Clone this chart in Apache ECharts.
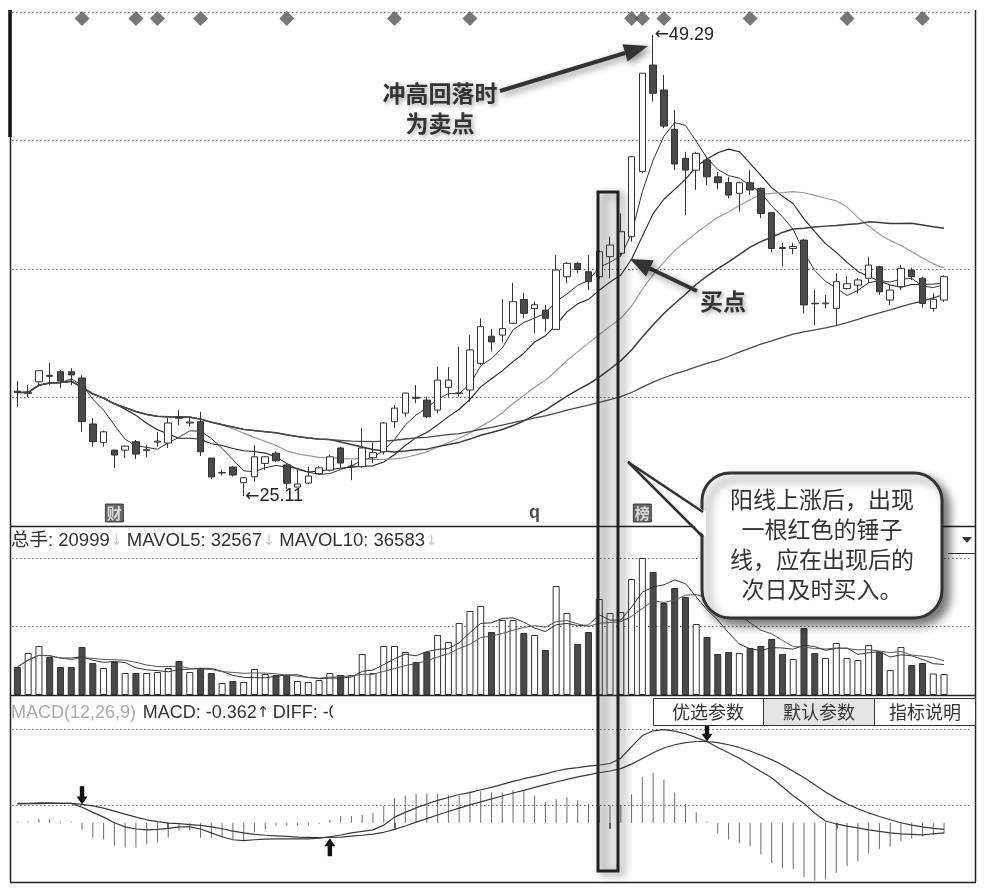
<!DOCTYPE html>
<html><head><meta charset="utf-8">
<script src="https://cdn.jsdelivr.net/npm/echarts@6/dist/echarts.min.js"></script>
<style>html,body{margin:0;padding:0;background:#fff}#c{width:985px;height:893px}</style>
</head><body><div id="c"></div>
<script>
// ---------- data ----------
const opens = [30.62,30.50,31.11,31.45,31.64,31.64,31.31,28.90,27.92,27.53,
 27.53,27.97,27.50,27.95,27.90,29.25,28.95,29.02,27.11,26.33,
 26.64,25.82,26.13,26.83,27.37,26.75,25.59,25.80,26.30,26.48,
 27.64,26.66,26.66,27.13,27.44,29.02,29.47,30.30,30.15,29.63,
 30.82,30.50,30.68,32.08,33.50,33.56,34.18,35.43,34.95,34.87,
 33.86,36.62,37.32,36.88,36.62,37.67,37.85,38.72,42.13,47.72,
 46.41,44.35,42.83,42.21,42.74,41.86,41.55,40.99,41.55,41.25,
 39.98,38.15,38.10,38.54,35.23,35.20,34.96,36.00,36.18,36.54,
 37.14,35.40,36.10,36.97,36.54,34.96,35.40];
const closes = [30.55,30.56,31.69,31.40,31.15,31.47,29.02,27.97,28.49,27.27,
 27.74,27.32,27.55,28.00,28.95,29.20,29.00,27.44,26.12,26.36,
 26.22,26.08,27.18,27.18,26.97,25.79,25.75,26.17,26.60,27.18,
 26.85,26.70,27.64,27.40,28.95,29.73,30.52,30.25,29.28,31.20,
 31.20,30.53,32.78,34.00,33.20,33.90,35.31,34.70,35.15,34.44,
 36.97,37.32,37.00,36.36,37.93,38.28,38.98,42.91,47.29,46.24,
 44.52,42.53,42.21,43.09,41.86,41.55,40.90,41.55,41.17,39.94,
 38.10,38.10,38.20,35.14,35.20,35.24,36.36,36.25,36.45,37.23,
 35.83,35.92,37.06,36.62,35.22,35.44,36.62];
const lows = [29.80,30.30,30.85,30.94,30.78,30.94,28.49,27.71,27.71,26.59,
 27.11,27.06,27.17,27.71,27.64,28.84,28.76,27.22,26.01,26.20,
 26.15,25.11,25.87,26.48,26.90,25.49,25.59,25.75,26.25,26.40,
 26.60,25.95,26.60,26.85,27.30,28.69,29.28,29.99,29.21,29.46,
 30.33,30.33,30.07,31.99,32.70,33.20,34.14,34.44,33.65,33.74,
 33.83,36.27,36.80,35.92,36.50,36.53,37.67,38.46,42.04,45.80,
 44.40,42.21,39.85,41.17,41.43,41.20,40.73,40.03,40.90,39.70,
 37.90,37.15,37.80,34.70,34.09,34.96,34.09,35.95,35.75,36.27,
 35.66,35.13,35.92,36.45,35.00,34.80,35.30];
const highs = [31.15,30.95,31.72,32.11,31.73,31.83,31.46,29.21,28.55,27.53,
 27.76,28.06,27.80,28.49,29.21,29.63,29.21,29.54,27.11,26.50,
 26.70,26.10,27.79,27.20,27.45,26.85,26.48,26.66,26.70,27.30,
 27.70,27.00,28.69,27.92,29.00,29.89,30.55,30.94,30.33,31.90,
 31.88,32.95,33.56,34.44,33.88,35.43,36.30,35.78,35.31,35.13,
 37.76,37.40,37.40,37.76,38.00,38.72,39.94,42.95,47.30,49.29,
 47.20,45.36,43.17,43.17,42.91,42.10,41.86,41.60,42.21,41.30,
 40.00,38.39,38.40,38.60,35.92,35.66,36.80,36.65,36.55,37.67,
 37.20,36.18,37.23,37.10,36.62,35.75,36.70];
const volumes = [28000,42000,49000,38000,28000,28000,48000,32000,27000,33000,
 22000,22000,22000,23000,27000,34000,23000,27000,22000,12000,
 14000,13000,26000,21000,20000,20000,14000,13000,15000,22000,
 20000,20000,41000,22000,49000,49000,43000,33000,43000,60000,
 53000,72000,84000,89000,63000,75000,75000,62000,60000,45000,
 109000,82000,51000,63000,96000,82000,83000,116000,137000,123000,
 92000,107000,98000,71000,58000,41000,43000,42000,47000,49000,
 56000,41000,36000,67000,42000,37000,52000,37000,35000,50000,
 43000,25000,48000,30000,32000,21500,20999];
const diff = [0.65,0.65,0.67,0.67,0.65,0.65,0.52,0.35,0.19,0.00,
 -0.14,-0.21,-0.24,-0.22,-0.19,-0.14,-0.14,-0.21,-0.34,-0.47,
 -0.57,-0.60,-0.57,-0.55,-0.54,-0.54,-0.54,-0.54,-0.52,-0.47,
 -0.41,-0.34,-0.29,-0.24,-0.08,0.19,0.35,0.50,0.63,0.75,
 0.85,0.95,1.01,1.11,1.19,1.29,1.39,1.48,1.56,1.64,
 1.74,1.81,1.85,1.90,1.94,1.99,2.17,2.56,2.93,3.09,
 3.13,3.08,2.99,2.86,2.73,2.53,2.35,2.17,1.94,1.72,
 1.51,1.21,0.91,0.65,0.32,0.06,-0.04,-0.11,-0.17,-0.24,
 -0.29,-0.34,-0.37,-0.39,-0.41,-0.37,-0.34];
const dea = [0.63,0.64,0.64,0.65,0.65,0.65,0.62,0.57,0.49,0.39,
 0.29,0.19,0.10,0.04,-0.01,-0.03,-0.06,-0.09,-0.14,-0.20,
 -0.28,-0.34,-0.39,-0.42,-0.44,-0.46,-0.48,-0.49,-0.50,-0.49,
 -0.48,-0.45,-0.42,-0.38,-0.32,-0.22,-0.11,0.02,0.14,0.26,
 0.38,0.49,0.60,0.70,0.80,0.90,1.00,1.09,1.19,1.28,
 1.37,1.46,1.54,1.61,1.68,1.74,1.82,1.97,2.16,2.35,
 2.51,2.62,2.69,2.73,2.73,2.69,2.62,2.53,2.41,2.27,
 2.12,1.94,1.73,1.52,1.28,1.03,0.82,0.63,0.47,0.33,
 0.21,0.10,0.00,-0.08,-0.14,-0.19,-0.22];
const macdHist = [0.03,0.03,0.13,0.13,0.03,0.03,-0.23,-0.50,-0.56,-0.76,
 -0.83,-0.83,-0.73,-0.66,-0.50,-0.26,-0.26,-0.50,-0.50,-0.50,
 -0.56,-0.59,-0.33,-0.23,-0.10,-0.10,-0.10,-0.10,-0.03,0.10,
 0.23,0.23,0.26,0.33,0.56,0.82,0.91,0.97,0.98,0.98,
 0.94,0.91,1.06,1.06,1.02,1.02,1.09,1.09,0.92,0.69,
 0.79,0.86,0.76,0.63,0.56,0.59,0.59,0.96,1.55,1.68,
 1.45,1.02,0.63,0.36,0.03,-0.36,-0.56,-0.69,-0.79,-1.06,
 -1.35,-1.52,-1.55,-1.82,-1.95,-1.91,-1.68,-1.45,-1.29,-1.02,
 -0.89,-0.79,-0.63,-0.53,-0.46,-0.40,-0.362];
const infoDays = [6,11,13,17,25,35,42,57,58,60,68,77,84];     // diamond markers
const tagDays = [9,48,58];
const tagTexts = ['财','q','榜'];
const monthStarts = [14,35,55,76];
const crossDays = [6,29,64];
const crossDirs = ['down','up','down'];
const maPeriods = [5,10,20,30,60];
const volMaPeriods = [5,10];

// ---------- helpers ----------
const days = opens.map((_, i) => 'D' + (i + 1));
const categories = days.concat(['', ' ']);
function movingAverage(arr, n) {
  return arr.map((_, i) => {
    const s = arr.slice(Math.max(0, i - n + 1), i + 1);
    return +(s.reduce((a, b) => a + b, 0) / s.length).toFixed(3);
  });
}
const FONT = '"Liberation Sans", Arial, "Noto Sans CJK SC", sans-serif';
const CJK = '"Noto Sans CJK SC", "Liberation Sans", sans-serif';
const ARW = '"DejaVu Sans", "Liberation Sans", sans-serif';
const dotted = {show: true, lineStyle: {color: '#666', type: [1.5, 2.5], width: 1}};
const chart = echarts.init(document.getElementById('c'), null, {renderer: 'canvas'});

const L = 12, GW = 959;
const grids = [
  {left: L, width: GW, top: 12, height: 514},   // 0 price
  {left: L, width: GW, top: 12, height: 13},    // 1 info diamonds
  {left: L, width: GW, top: 504, height: 18},   // 2 tags
  {left: L, width: GW, top: 558, height: 137},  // 3 volume
  {left: L, width: GW, top: 729, height: 153}   // 4 macd
];
const xAxes = grids.map((g, gi) => ({
  type: 'category', gridIndex: gi, data: categories, boundaryGap: true,
  axisLine: {show: false}, axisLabel: {show: false}, splitLine: {show: false},
  axisTick: gi === 4 ? {show: true, alignWithLabel: true, length: 6,
    interval: (idx) => monthStarts.indexOf(idx) >= 0, lineStyle: {color: '#333', width: 1.5}} : {show: false}
}));
const hid = {axisLine: {show: false}, axisTick: {show: false}, axisLabel: {show: false}};
const yAxes = [
  Object.assign({type: 'value', gridIndex: 0, min: 23.55, max: 50.5, splitLine: {show: false}}, hid),
  Object.assign({type: 'value', gridIndex: 0, min: 0, max: 4, interval: 1, splitLine: dotted}, hid),
  Object.assign({type: 'category', gridIndex: 1, data: ['info'], splitLine: {show: false}}, hid),
  Object.assign({type: 'category', gridIndex: 2, data: ['tag'], splitLine: {show: false}}, hid),
  Object.assign({type: 'value', gridIndex: 3, min: 0, max: 137000, splitLine: {show: false}}, hid),
  Object.assign({type: 'value', gridIndex: 3, min: 0, max: 2, interval: 1, splitLine: dotted}, hid),
  Object.assign({type: 'value', gridIndex: 4, min: -1.99, max: 3.15, splitLine: {show: false}}, hid),
  Object.assign({type: 'value', gridIndex: 4, min: 0, max: 2, interval: 1, splitLine: dotted}, hid)
];

const peakIdx = highs.indexOf(Math.max(...highs));
const lowIdx = lows.indexOf(Math.min(...lows));
const maColors = ['#333', '#222', '#9a9a9a', '#3a3a3a', '#4a4a4a'];
const maWidths = [1, 1.1, 1.2, 1.5, 1.3];

const series = [];
series.push({
  type: 'candlestick', xAxisIndex: 0, yAxisIndex: 0, barWidth: 7, z: 3,
  data: opens.map((o, i) => [o, closes[i], lows[i], highs[i]]),
  itemStyle: {color: '#ffffff', color0: '#4a4a4a', borderColor: '#333', borderColor0: '#333', borderWidth: 1},
  markPoint: {
    symbol: 'circle', symbolSize: 1, itemStyle: {color: 'rgba(0,0,0,0)'},
    label: {show: true, position: 'right', distance: 1,
      rich: {ar: {fontFamily: ARW, fontSize: 17, color: '#222'},
             v: {fontFamily: FONT, fontSize: 18, color: '#222'}}},
    data: [
      {coord: [days[peakIdx], highs[peakIdx]], label: {formatter: '{ar|←}{v|' + highs[peakIdx].toFixed(2) + '}'}},
      {coord: [days[lowIdx], lows[lowIdx]], label: {formatter: '{ar|←}{v|' + lows[lowIdx].toFixed(2) + '}'}}
    ]
  }
});
maPeriods.forEach((p, k) => series.push({
  type: 'line', xAxisIndex: 0, yAxisIndex: 0, data: movingAverage(closes, p), symbol: 'none',
  lineStyle: {color: maColors[k], width: maWidths[k]}, z: 2, silent: true
}));
series.push({
  type: 'scatter', xAxisIndex: 1, yAxisIndex: 2, symbol: 'diamond', symbolSize: [15, 15],
  itemStyle: {color: '#555'}, data: infoDays.map(d => [days[d], 'info'])
});
series.push({
  type: 'scatter', xAxisIndex: 2, yAxisIndex: 3,
  data: tagDays.map((d, k) => {
    const boxed = tagTexts[k] !== 'q';
    return {
      value: [days[d], 'tag'], symbol: 'rect', symbolSize: boxed ? [18, 18] : 0,
      itemStyle: {color: '#444', borderColor: '#222', borderWidth: 1},
      label: {show: true, position: 'inside', formatter: tagTexts[k],
        color: boxed ? '#f2f2f2' : '#222', fontSize: boxed ? 15 : 18, fontWeight: 'bold', fontFamily: boxed ? CJK : FONT}
    };
  })
});
series.push({
  type: 'bar', xAxisIndex: 3, yAxisIndex: 4, barWidth: 7,
  data: volumes.map((v, i) => ({
    value: v,
    itemStyle: closes[i] >= opens[i] ? {color: '#fff', borderColor: '#333', borderWidth: 1}
                                     : {color: '#4a4a4a', borderColor: '#333', borderWidth: 1}
  }))
});
volMaPeriods.forEach((p, k) => series.push({
  type: 'line', xAxisIndex: 3, yAxisIndex: 4, data: movingAverage(volumes, p), symbol: 'none',
  lineStyle: {color: k === 0 ? '#333' : '#555', width: 1}, z: 3, silent: true
}));
series.push({
  type: 'bar', xAxisIndex: 4, yAxisIndex: 6, barWidth: 1, data: macdHist,
  itemStyle: {color: '#6a6a6a'}
});
series.push({
  type: 'line', xAxisIndex: 4, yAxisIndex: 6, data: diff, symbol: 'none',
  lineStyle: {color: '#3a3a3a', width: 1.2}, z: 3
});
const downArrow = 'path://M3,0 L7,0 L7,9 L10,9 L5,16 L0,9 L3,9 Z';
series.push({
  type: 'line', xAxisIndex: 4, yAxisIndex: 6, data: dea, symbol: 'none',
  lineStyle: {color: '#3a3a3a', width: 1.2}, z: 3,
  markPoint: {
    symbol: downArrow, symbolSize: [11, 18], itemStyle: {color: '#111'}, label: {show: false},
    data: crossDays.map((d, k) => ({
      coord: [days[d], dea[d]],
      symbolRotate: crossDirs[k] === 'up' ? 180 : 0,
      symbolOffset: [0, crossDirs[k] === 'up' ? 10 : -9]
    }))
  }
});

// ---------- decorations (frame, headers, annotations) ----------
const shadow = {shadowBlur: 7, shadowColor: 'rgba(0,0,0,0.45)', shadowOffsetX: 3, shadowOffsetY: 3};
function arrowEls(x1, y1, x2, y2, headLen, headHalf, lw) {
  const a = Math.atan2(y2 - y1, x2 - x1);
  const bx = x2 - headLen * Math.cos(a), by = y2 - headLen * Math.sin(a);
  const px = -Math.sin(a) * headHalf, py = Math.cos(a) * headHalf;
  return [
    {type: 'line', z: 100, shape: {x1: x1, y1: y1, x2: bx, y2: by},
     style: Object.assign({stroke: '#333', lineWidth: lw}, shadow)},
    {type: 'polygon', z: 100, shape: {points: [[x2, y2], [bx + px, by + py], [bx - px, by - py]]},
     style: Object.assign({fill: '#333'}, shadow)}
  ];
}
function hline(y, x1, x2, w, c) { return {type: 'line', z: 90, shape: {x1: x1, y1: y, x2: x2, y2: y}, style: {stroke: c || '#222', lineWidth: w || 1.5}}; }
function vline(x, y1, y2, w, c) { return {type: 'line', z: 90, shape: {x1: x, y1: y1, x2: x, y2: y2}, style: {stroke: c || '#222', lineWidth: w || 1.5}}; }
const txtShadow = {textShadowBlur: 4, textShadowColor: 'rgba(0,0,0,0.35)', textShadowOffsetX: 2, textShadowOffsetY: 2};

const graphic = [
  vline(10.5, 10, 882), vline(975.5, 10, 882), vline(10, 10, 137, 3.5, '#111'),
  hline(526.5, 10, 976), hline(695.5, 10, 976), hline(882.5, 10, 976),
  hline(553.5, 948, 976, 1, '#333'),
  {type: 'polygon', z: 95, shape: {points: [[962, 537], [972, 537], [967, 543]]}, style: {fill: '#333'}},
  {type: 'text', z: 95, x: 11, y: 541, style: {
    text: '{a|总手: 20999}{b|↓} {a|MAVOL5: 32567}{b|↓} {a|MAVOL10: 36583}{b|↓}',
    verticalAlign: 'middle',
    rich: {a: {fontSize: 18.5, fontFamily: FONT, fill: '#333', color: '#333'},
           b: {fontSize: 14, fontFamily: ARW, fill: '#c4c4c4', color: '#c4c4c4', padding: [0, 1, 0, 1]}}}},
  {type: 'text', z: 95, x: 11, y: 713, style: {
    text: '{g|MACD(12,26,9)}  {a|MACD: -0.362}{c|↑} {a|DIFF: -0.179}',
    verticalAlign: 'middle',
    rich: {g: {fontSize: 18, fontFamily: FONT, fill: '#aaa', color: '#aaa'},
           a: {fontSize: 18, fontFamily: FONT, fill: '#333', color: '#333'},
           c: {fontSize: 15, fontFamily: ARW, fill: '#333', color: '#333'}}}},
  {type: 'rect', z: 96, shape: {x: 333, y: 699, width: 319, height: 27}, style: {fill: '#fff'}},
  {type: 'rect', z: 96, shape: {x: 653.5, y: 698.5, width: 110, height: 27}, style: {fill: '#fff', stroke: '#333', lineWidth: 1}},
  {type: 'rect', z: 96, shape: {x: 763.5, y: 698.5, width: 111, height: 27}, style: {fill: '#e4e4e4', stroke: '#333', lineWidth: 1}},
  {type: 'rect', z: 96, shape: {x: 874.5, y: 698.5, width: 101, height: 27}, style: {fill: '#fff', stroke: '#333', lineWidth: 1}},
  {type: 'text', z: 97, x: 708, y: 712, style: {text: '优选参数', font: '18px ' + CJK, fill: '#333', align: 'center', verticalAlign: 'middle'}},
  {type: 'text', z: 97, x: 819, y: 712, style: {text: '默认参数', font: '18px ' + CJK, fill: '#333', align: 'center', verticalAlign: 'middle'}},
  {type: 'text', z: 97, x: 925, y: 712, style: {text: '指标说明', font: '18px ' + CJK, fill: '#333', align: 'center', verticalAlign: 'middle'}},
  // highlight rectangle
  {type: 'rect', z: 99, shape: {x: 598, y: 192, width: 20, height: 679},
   style: Object.assign({fill: 'rgba(150,150,150,0.12)', stroke: '#222', lineWidth: 3}, {shadowBlur: 8, shadowColor: 'rgba(0,0,0,0.45)', shadowOffsetX: 5, shadowOffsetY: 3})},
  // annotation texts
  {type: 'text', z: 100, x: 440, y: 108, style: Object.assign({text: '冲高回落时\n为卖点', font: 'bold 23px ' + CJK, fill: '#333',
    align: 'center', verticalAlign: 'middle', lineHeight: 30}, txtShadow)},
  {type: 'text', z: 100, x: 700, y: 301, style: Object.assign({text: '买点', font: 'bold 23px ' + CJK, fill: '#333',
    align: 'left', verticalAlign: 'middle'}, txtShadow)}
].concat(arrowEls(500, 91, 648, 46, 24, 9, 4), arrowEls(697, 291, 630, 259, 22, 9, 4)).concat([
  // callout bubble
  {type: 'rect', z: 101, shape: {x: 702, y: 473, width: 240, height: 145, r: 28},
   style: {fill: '#fff', stroke: '#333', lineWidth: 3, shadowBlur: 10, shadowColor: 'rgba(0,0,0,0.55)', shadowOffsetX: 6, shadowOffsetY: 6}},
  {type: 'polygon', z: 102, shape: {points: [[628, 462], [706, 512], [706, 537]]}, style: {fill: '#fff'}},
  {type: 'polyline', z: 103, shape: {points: [[703, 512], [628, 462], [703, 537]]}, style: {stroke: '#333', lineWidth: 2.5, fill: null}},
  {type: 'text', z: 104, x: 822, y: 544, style: {text: '阳线上涨后，出现\n一根红色的锤子\n线，应在出现后的\n次日及时买入。',
    font: '23px ' + CJK, fill: '#333', align: 'center', verticalAlign: 'middle', lineHeight: 30}}
]);

chart.setOption({
  animation: false,
  backgroundColor: '#fff',
  grid: grids, xAxis: xAxes, yAxis: yAxes, series: series, graphic: graphic
});
</script></body></html>
